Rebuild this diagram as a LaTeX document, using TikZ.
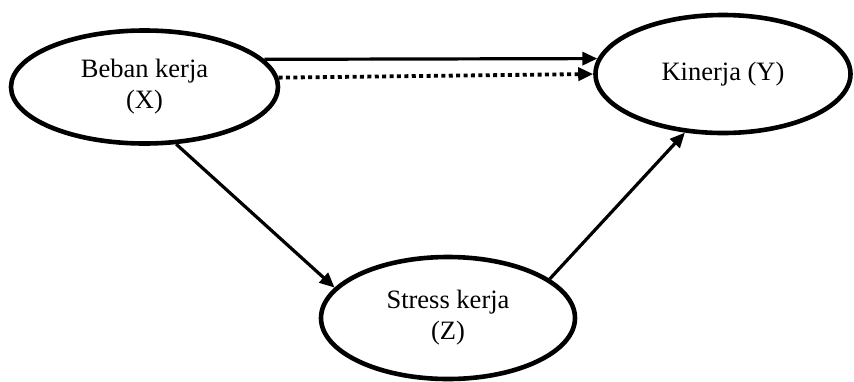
\documentclass[tikz,border=0pt]{standalone}
\usepackage{fontspec}
\setmainfont{Liberation Serif}
\usetikzlibrary{shapes.geometric,arrows.meta}
\begin{document}
\begin{tikzpicture}[x=1pt,y=-1pt,
  varbox/.style={ellipse,draw,line width=4.6pt,inner sep=0pt,align=center,
    font=\fontsize{26.5}{31}\selectfont},
  conn/.style={line width=3.2pt,-{Triangle[length=15pt,width=13pt]}},
  dotconn/.style={line width=3.8pt,dash pattern=on 4pt off 3.4pt,
    -{Triangle[length=15pt,width=13pt]}}]
\path[use as bounding box] (0,0) rectangle (854,381);
\node[varbox,minimum width=267pt,minimum height=113pt] (x) at (144.5,87) {Beban kerja\\(X)};
\node[varbox,minimum width=255pt,minimum height=118pt] (y) at (723,74) {Kinerja (Y)};
\node[varbox,minimum width=254pt,minimum height=122pt] (z) at (448,318) {Stress kerja\\(Z)};
\draw[conn] (x.13) -- (y.173.5);
\draw[dotconn] (x.4) -- (y.180);
\draw[conn] (x.-61) -- (z.165);
\draw[conn] (z.21) -- (y.237);
\end{tikzpicture}
\end{document}
